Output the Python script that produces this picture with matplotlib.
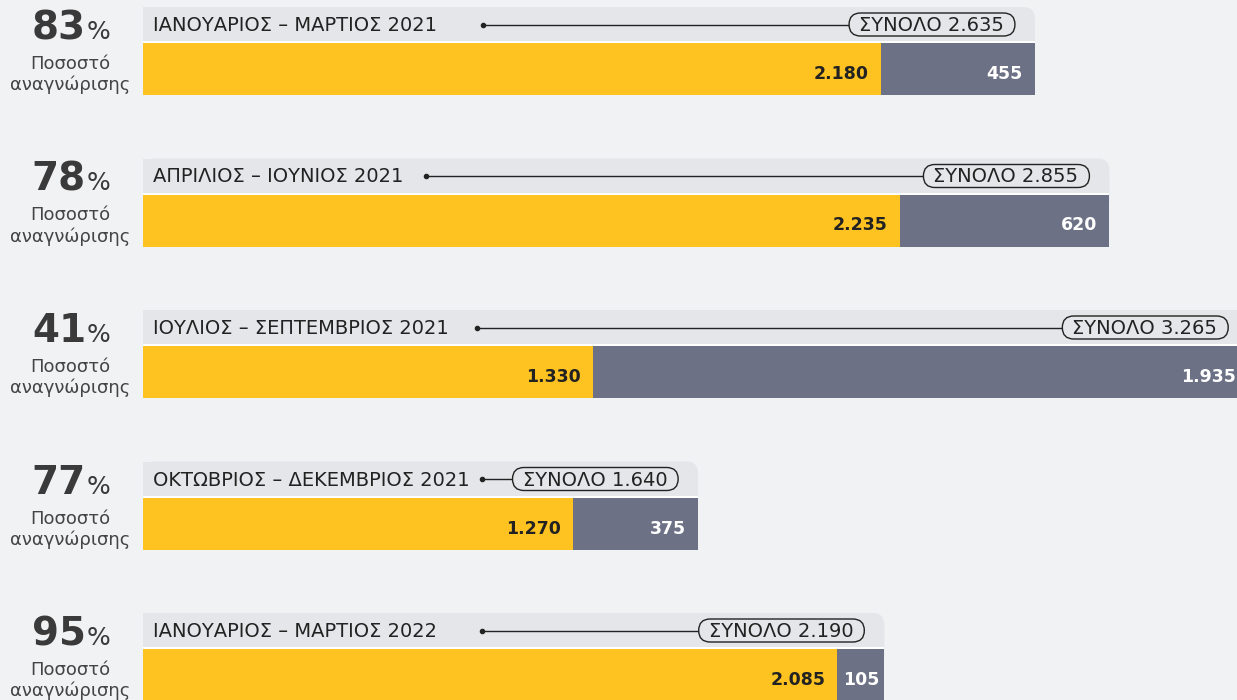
import matplotlib
matplotlib.use("Agg")
import matplotlib.pyplot as plt
from matplotlib.patches import FancyBboxPatch, Rectangle

# ---- data ----
periods = ["ΙΑΝΟΥΑΡΙΟΣ – ΜΑΡΤΙΟΣ 2021", "ΑΠΡΙΛΙΟΣ – ΙΟΥΝΙΟΣ 2021",
           "ΙΟΥΛΙΟΣ – ΣΕΠΤΕΜΒΡΙΟΣ 2021", "ΟΚΤΩΒΡΙΟΣ – ΔΕΚΕΜΒΡΙΟΣ 2021",
           "ΙΑΝΟΥΑΡΙΟΣ – ΜΑΡΤΙΟΣ 2022"]
recognized = [2180, 2235, 1330, 1270, 2085]
rejected = [455, 620, 1935, 375, 105]
totals = [2635, 2855, 3265, 1640, 2190]
rates = [83, 78, 41, 77, 95]
total_labels = ["2.635", "2.855", "3.265", "1.640", "2.190"]
recog_labels = ["2.180", "2.235", "1.330", "1.270", "2.085"]
rej_labels = ["455", "620", "1.935", "375", "105"]

# ---- style / layout ----
BG = "#f1f2f4"
HEAD = "#e5e6e9"
YEL = "#fec320"
GRY = "#6c7186"
DARK = "#222222"
FONT = "DejaVu Sans"

W, H = 1237, 700
x0_px = 143
px_per_unit = 0.3385
min_gray_px = 47          # minimum visual width of the grey segment
dot_px = [483, 426, 477, 482, 482]
row_top = [7 + 151.5 * i for i in range(5)]

fig = plt.figure(figsize=(W / 100, H / 100), dpi=100, facecolor=BG)
ax = fig.add_axes([0, 0, 1, 1])
ax.set_facecolor(BG)
u_left = -x0_px / px_per_unit
u_right = (W - x0_px) / px_per_unit
ax.set_xlim(u_left, u_right)
ax.set_ylim(H, 0)
ax.axis("off")
renderer = fig.canvas.get_renderer()

def px2u(p):
    return p / px_per_unit

aspect = px_per_unit  # y units (px) per x unit
inv = ax.transData.inverted()

for i in range(5):
    T = row_top[i]
    tot = totals[i]
    # header strip with rounded top-right corner
    hb = FancyBboxPatch((0, T), tot, 54,
                        boxstyle="round,pad=0,rounding_size=%f" % px2u(12),
                        mutation_aspect=aspect, facecolor=HEAD, edgecolor="none", zorder=1)
    ax.add_patch(hb)
    ax.add_patch(Rectangle((0, T), tot - px2u(30), 54, facecolor=HEAD, edgecolor="none", zorder=1))
    ax.add_patch(Rectangle((0, T + 34), tot, 3, facecolor="white", edgecolor="none", zorder=2))
    # bars (scaled to the total, grey keeps a minimum visible width)
    yel_w = min(recognized[i], tot - px2u(min_gray_px))
    gry_w = tot - yel_w
    yc = T + 36 + 26
    ax.barh(yc, yel_w, left=0, height=52, color=YEL, zorder=3)
    ax.barh(yc, gry_w, left=yel_w, height=52, color=GRY, zorder=3)
    # value labels
    ax.text(yel_w - px2u(12), T + 67, recog_labels[i], ha="right", va="center",
            fontsize=12.5, fontweight="bold", color=DARK, family=FONT, zorder=5)
    if gry_w * px_per_unit < 70:
        ax.text(yel_w + gry_w / 2, T + 67, rej_labels[i], ha="center", va="center",
                fontsize=12.5, fontweight="bold", color="white", family=FONT, zorder=5)
    else:
        ax.text(tot - px2u(12), T + 67, rej_labels[i], ha="right", va="center",
                fontsize=12.5, fontweight="bold", color="white", family=FONT, zorder=5)
    # header label
    ax.text(px2u(10), T + 18.5, periods[i], ha="left", va="center", fontsize=14,
            color=DARK, family=FONT, zorder=5)
    # pill with total
    pill_right = tot - px2u(20)
    t = ax.text(pill_right - px2u(11), T + 18.5, "ΣΥΝΟΛΟ " + total_labels[i], ha="right",
                va="center", fontsize=14, color=DARK, family=FONT, zorder=7)
    ext = t.get_window_extent(renderer)
    left_u = inv.transform((ext.x0, 0))[0] - px2u(10)
    pill = FancyBboxPatch((left_u, T + 6), pill_right - left_u, 23,
                          boxstyle="round,pad=0,rounding_size=%f" % px2u(11.5),
                          mutation_aspect=aspect, facecolor=HEAD, edgecolor=DARK,
                          lw=1, zorder=6)
    ax.add_patch(pill)
    # connector line + dot
    ax.plot([px2u(dot_px[i] - x0_px), left_u], [T + 17.5, T + 17.5], color=DARK, lw=1, zorder=4)
    ax.plot([px2u(dot_px[i] - x0_px)], [T + 17.5], "o", color=DARK, ms=3, zorder=4)
    # percent labels on the left
    ax.text(px2u(86 - x0_px), T + 32, str(rates[i]), ha="right", va="baseline",
            fontsize=28, fontweight="bold", color="#3a3a3a", family=FONT)
    ax.text(px2u(87 - x0_px), T + 32, "%", ha="left", va="baseline",
            fontsize=18, color="#3a3a3a", family=FONT)
    ax.text(px2u(70 - x0_px), T + 57, "Ποσοστό", ha="center", va="center",
            fontsize=13, color="#444444", family=FONT)
    ax.text(px2u(70 - x0_px), T + 78, "αναγνώρισης", ha="center", va="center",
            fontsize=13, color="#444444", family=FONT)

fig.savefig("out.png", dpi=100, facecolor=BG)
